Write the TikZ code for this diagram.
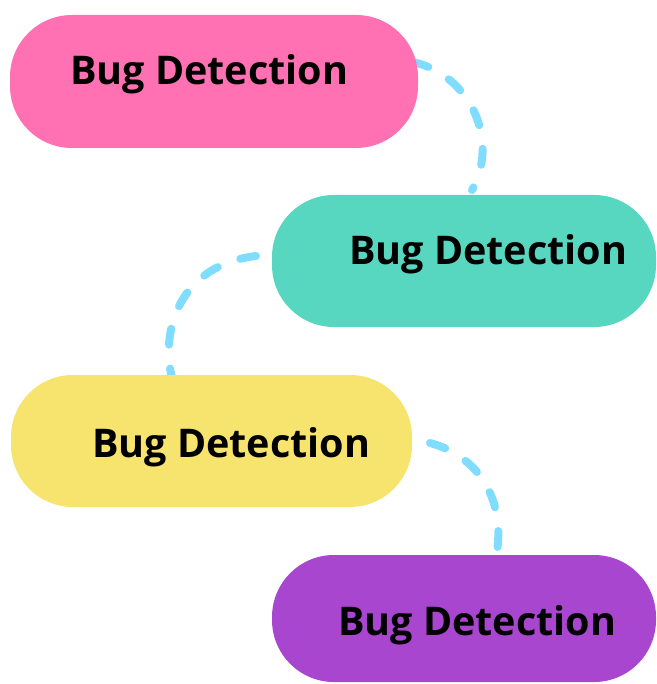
\documentclass[tikz,border=0pt]{standalone}
\usepackage{fontspec}
\setmainfont{Open Sans}
\definecolor{pinkc}{RGB}{255,113,178}
\definecolor{tealc}{RGB}{87,215,192}
\definecolor{yellowc}{RGB}{247,228,110}
\definecolor{purplec}{RGB}{169,70,207}
\definecolor{linkc}{RGB}{128,221,255}
\begin{document}
\begin{tikzpicture}[x=1pt,y=-1pt,
  blob/.style={rounded corners=62pt, inner sep=0pt, outer sep=0pt, draw=none},
  lbl/.style={font=\fontsize{39.5}{40}\selectfont\bfseries, anchor=base west, inner sep=0pt, text=black},
  link/.style={draw=linkc, line width=8pt, line cap=round, dash pattern=on 16pt off 24pt}]
\useasboundingbox (0,0) rectangle (656,684);
% connectors
\coordinate (a1) at (413,62);
\coordinate (a2) at (472,190);
\coordinate (b1) at (256,256);
\coordinate (b2) at (172,378);
\coordinate (c1) at (430,443);
\coordinate (c2) at (497,552);
\draw[link] (a1) .. controls (470,75) and (500,140) .. (a2);
\draw[link] (b1) .. controls (180,265) and (160,330) .. (b2);
\draw[link] (c1) .. controls (475,455) and (505,495) .. (c2);
% blobs
\node[blob, fill=pinkc, minimum width=408pt, minimum height=133pt] (pink) at (214,81.5) {};
\node[blob, fill=tealc, minimum width=384pt, minimum height=132pt] (teal) at (464,261) {};
\node[blob, fill=yellowc, minimum width=401pt, minimum height=132pt] (yellow) at (211.5,441) {};
\node[blob, fill=purplec, minimum width=384pt, minimum height=127pt] (purple) at (464,618.5) {};
% labels
\node[lbl] (t1) at (70,85) {Bug Detection};
\node[lbl] (t2) at (349,265) {Bug Detection};
\node[lbl] (t3) at (92,457) {Bug Detection};
\node[lbl] (t4) at (338,635) {Bug Detection};
\end{tikzpicture}
\end{document}
